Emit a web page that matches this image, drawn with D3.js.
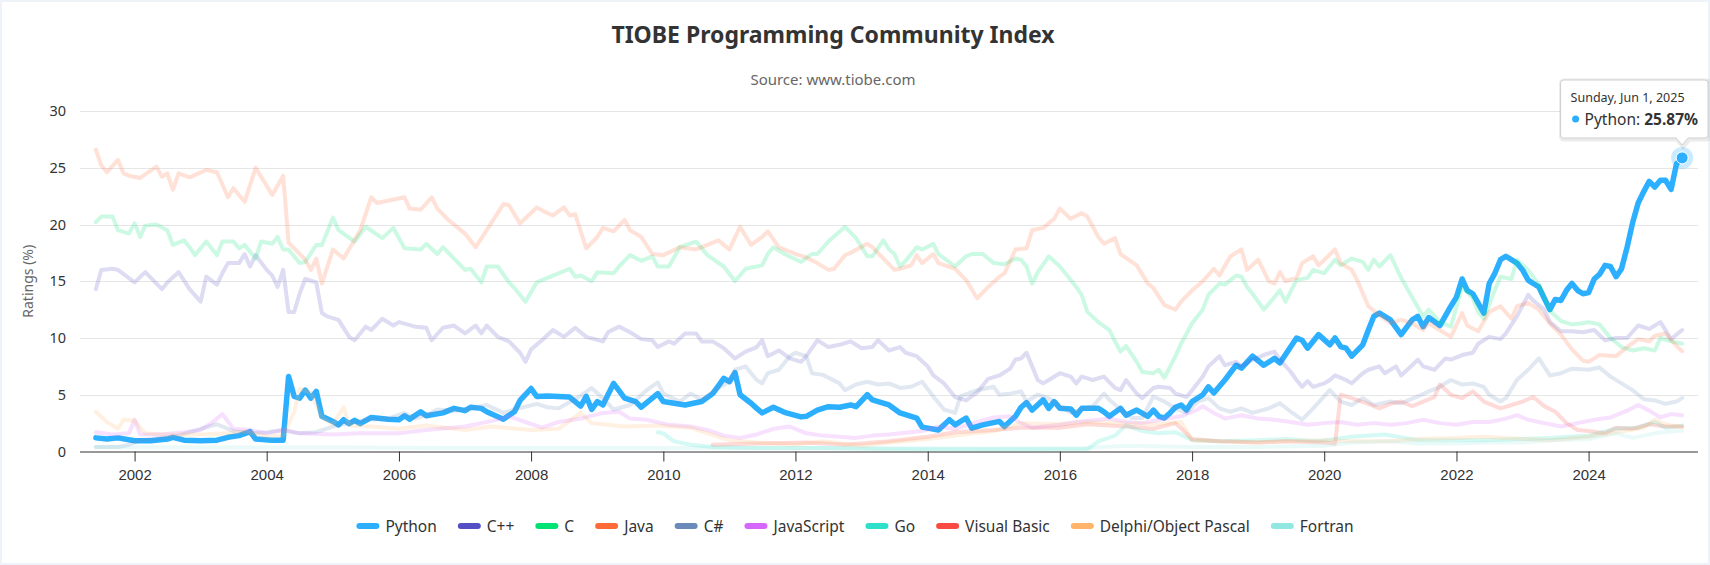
<!DOCTYPE html>
<html>
<head>
<meta charset="utf-8">
<script src="https://cdn.jsdelivr.net/npm/d3@7"></script>
<style>
  html, body { margin: 0; padding: 0; background: #fff; }
  svg { display: block; font-family: "Noto Sans", "Open Sans", sans-serif; }
</style>
</head>
<body>
<svg id="chart" width="1710" height="565"></svg>
<script>
// ---- data (monthly TIOBE ratings, %) ----
var seriesNames = ["Python", "C++", "C", "Java", "C#", "JavaScript", "Go", "Visual Basic", "Delphi/Object Pascal", "Fortran"];
var seriesColors = ["#2caffe", "#544fc5", "#00e272", "#fe6a35", "#6b8abc", "#d568fb", "#2ee0ca", "#fa4b42", "#feb56a", "#91e8e1"];
var yTicks = [0, 5, 10, 15, 20, 25, 30];
var xTickYears = [2002, 2004, 2006, 2008, 2010, 2012, 2014, 2016, 2018, 2020, 2022, 2024];

var python = [["2001-06",1.2],["2001-08",1.1],["2001-10",1.2],["2002-01",0.95],["2002-04",0.95],["2002-07",1.1],["2002-08",1.25],["2002-10",1.0],
  ["2003-01",0.95],["2003-04",1.0],["2003-06",1.25],["2003-08",1.4],["2003-10",1.75],["2003-11",1.1],["2004-02",1.0],["2004-04",1.0],["2004-05",6.6],
  ["2004-06",4.85],["2004-07",4.7],["2004-08",5.4],["2004-09",4.7],["2004-10",5.3],["2004-11",3.1],["2005-01",2.65],["2005-02",2.35],["2005-03",2.8],
  ["2005-04",2.45],["2005-05",2.75],["2005-06",2.45],["2005-08",3.0],["2005-11",2.85],["2006-01",2.8],["2006-02",3.15],["2006-03",2.85],["2006-05",3.5],
  ["2006-06",3.15],["2006-09",3.4],["2006-11",3.8],["2007-01",3.6],["2007-02",3.9],["2007-04",3.8],["2007-05",3.5],["2007-08",2.85],["2007-10",3.5],
  ["2007-11",4.5],["2008-01",5.55],["2008-02",4.85],["2008-04",4.9],["2008-08",4.8],["2008-10",4.0],["2008-11",4.85],["2008-12",3.7],["2009-01",4.4],
  ["2009-02",4.1],["2009-04",6.0],["2009-06",4.7],["2009-08",4.4],["2009-09",3.9],["2009-12",5.1],["2010-01",4.4],["2010-05",4.1],["2010-08",4.4],
  ["2010-10",5.1],["2010-12",6.45],["2011-01",6.15],["2011-02",6.95],["2011-03",5.0],["2011-05",4.25],["2011-06",3.8],["2011-07",3.4],["2011-09",3.9],
  ["2011-11",3.45],["2012-02",3.05],["2012-03",3.1],["2012-05",3.65],["2012-07",3.95],["2012-09",3.9],["2012-11",4.1],["2012-12",3.95],["2013-02",5.0],
  ["2013-03",4.55],["2013-06",4.1],["2013-08",3.4],["2013-11",2.95],["2013-12",2.15],["2014-03",1.9],["2014-05",2.8],["2014-06",2.35],["2014-08",2.95],
  ["2014-09",2.05],["2014-11",2.35],["2015-02",2.65],["2015-03",2.2],["2015-05",3.1],["2015-06",3.9],["2015-07",4.3],["2015-08",3.65],["2015-10",4.55],
  ["2015-11",3.8],["2015-12",4.4],["2016-01",3.8],["2016-03",3.75],["2016-04",3.2],["2016-05",3.8],["2016-08",3.8],["2016-09",3.5],["2016-10",3.1],
  ["2016-12",3.8],["2017-01",3.2],["2017-03",3.65],["2017-05",3.1],["2017-06",3.65],["2017-07",3.1],["2017-08",2.95],["2017-09",3.4],["2017-10",3.9],
  ["2017-11",4.1],["2017-12",3.65],["2018-01",4.4],["2018-03",5.0],["2018-04",5.7],["2018-05",5.15],["2018-07",6.3],["2018-09",7.6],["2018-10",7.35],
  ["2018-12",8.4],["2019-02",7.6],["2019-04",8.2],["2019-05",7.8],["2019-08",10.0],["2019-09",9.8],["2019-10",9.1],["2019-12",10.3],["2020-02",9.4],
  ["2020-03",10.0],["2020-04",9.25],["2020-05",9.1],["2020-06",8.4],["2020-08",9.4],["2020-09",10.7],["2020-10",11.9],["2020-11",12.2],["2021-01",11.6],
  ["2021-03",10.3],["2021-05",11.6],["2021-06",11.9],["2021-07",11.0],["2021-08",11.8],["2021-10",11.1],["2021-12",12.8],["2022-01",13.6],["2022-02",15.2],
  ["2022-03",14.2],["2022-04",13.9],["2022-06",12.2],["2022-07",14.8],["2022-08",15.7],["2022-09",16.9],["2022-10",17.2],["2022-12",16.6],["2023-01",16.0],
  ["2023-02",15.1],["2023-03",14.8],["2023-04",14.5],["2023-05",13.5],["2023-06",12.5],["2023-07",13.4],["2023-08",13.3],["2023-09",14.2],["2023-10",14.8],
  ["2023-11",14.2],["2023-12",13.9],["2024-01",14.0],["2024-02",15.2],["2024-03",15.6],["2024-04",16.4],["2024-05",16.3],["2024-06",15.4],["2024-07",16.1],
  ["2024-08",18.0],["2024-09",20.2],["2024-10",21.9],["2024-11",22.9],["2024-12",23.8],["2025-01",23.3],["2025-02",23.9],["2025-03",23.9],["2025-04",23.1],
  ["2025-05",25.35],["2025-06",25.87]];

var cpp = [["2001-06",14.3],["2001-07",16.0],["2001-09",16.1],["2001-10",16.0],["2002-01",14.9],["2002-03",15.8],["2002-06",14.3],["2002-07",14.9],
  ["2002-09",15.8],["2002-11",14.3],["2003-01",13.2],["2003-02",15.4],["2003-04",14.7],["2003-05",15.7],["2003-06",16.6],["2003-08",16.6],["2003-09",17.4],
  ["2003-10",16.3],["2003-11",17.3],["2004-01",16.0],["2004-02",15.5],["2004-03",14.5],["2004-04",16.0],["2004-05",12.3],["2004-06",12.3],["2004-07",13.9],
  ["2004-08",15.2],["2004-10",14.9],["2004-11",12.2],["2004-12",11.9],["2005-02",11.6],["2005-04",10.1],["2005-05",9.8],["2005-07",11.0],["2005-08",10.7],
  ["2005-10",11.7],["2005-12",11.1],["2006-01",11.4],["2006-04",11.0],["2006-06",10.9],["2006-07",9.8],["2006-09",10.9],["2006-11",11.1],["2007-01",10.4],
  ["2007-03",11.1],["2007-04",10.4],["2007-05",11.1],["2007-07",10.1],["2007-09",9.7],["2007-11",8.7],["2007-12",7.9],["2008-01",9.0],["2008-03",9.8],
  ["2008-05",10.7],["2008-07",10.1],["2008-09",10.9],["2008-11",10.1],["2009-02",9.7],["2009-03",10.5],["2009-05",11.0],["2009-07",10.5],["2009-09",9.9],
  ["2009-11",9.8],["2009-12",9.2],["2010-02",9.7],["2010-03",9.5],["2010-05",10.4],["2010-07",10.4],["2010-08",9.7],["2010-10",9.7],["2010-12",9.1],
  ["2011-02",8.2],["2011-04",8.8],["2011-06",9.2],["2011-07",9.8],["2011-08",8.4],["2011-10",8.9],["2011-12",8.2],["2012-02",7.9],["2012-03",8.4],
  ["2012-05",9.8],["2012-07",9.2],["2012-09",9.4],["2012-11",9.7],["2013-01",9.1],["2013-03",9.2],["2013-04",9.8],["2013-06",8.9],["2013-08",9.2],
  ["2013-09",8.7],["2013-11",8.4],["2014-01",7.5],["2014-02",6.7],["2014-04",6.0],["2014-06",4.8],["2014-08",4.5],["2014-10",5.2],["2014-12",6.4],
  ["2015-02",6.7],["2015-04",7.3],["2015-05",8.1],["2015-06",8.2],["2015-07",8.7],["2015-08",7.5],["2015-09",6.3],["2015-10",6.0],["2015-11",6.3],
  ["2016-01",6.9],["2016-03",6.6],["2016-04",6.0],["2016-05",6.6],["2016-07",6.3],["2016-09",6.6],["2016-11",5.6],["2016-12",5.4],["2017-01",6.3],
  ["2017-03",5.1],["2017-04",4.7],["2017-06",5.6],["2017-07",5.7],["2017-09",5.6],["2017-10",5.1],["2017-12",4.8],["2018-01",5.4],["2018-03",6.6],
  ["2018-04",7.5],["2018-06",8.4],["2018-07",7.6],["2018-09",7.9],["2018-10",7.5],["2018-12",8.1],["2019-02",8.5],["2019-04",8.8],["2019-05",8.1],
  ["2019-07",7.0],["2019-08",6.3],["2019-09",5.7],["2019-10",6.2],["2019-11",5.7],["2020-01",6.0],["2020-02",6.3],["2020-03",6.7],["2020-05",6.3],
  ["2020-06",6.0],["2020-08",6.9],["2020-09",7.2],["2020-11",7.5],["2020-12",6.9],["2021-02",7.5],["2021-03",6.7],["2021-05",7.6],["2021-06",8.1],
  ["2021-07",7.5],["2021-09",7.2],["2021-11",8.2],["2021-12",8.1],["2022-02",8.5],["2022-04",8.7],["2022-05",9.5],["2022-07",10.1],["2022-09",9.9],
  ["2022-10",10.4],["2022-12",11.9],["2023-02",13.8],["2023-03",13.3],["2023-05",12.5],["2023-06",11.4],["2023-08",10.6],["2023-10",10.6],["2023-12",10.5],
  ["2024-02",10.7],["2024-04",9.8],["2024-06",10.0],["2024-08",10.0],["2024-10",11.1],["2024-12",10.8],["2025-02",11.4],["2025-04",9.9],["2025-06",10.7]];

var cLang = [["2001-06",20.2],["2001-07",20.7],["2001-09",20.7],["2001-10",19.5],["2001-12",19.2],["2002-01",20.1],["2002-02",18.9],["2002-03",19.9],
  ["2002-05",20.0],["2002-07",19.5],["2002-08",18.2],["2002-10",18.6],["2002-11",18.0],["2002-12",17.3],["2003-02",18.5],["2003-04",17.3],["2003-05",18.5],
  ["2003-07",18.5],["2003-08",17.9],["2003-09",18.2],["2003-11",17.0],["2003-12",18.5],["2004-02",18.3],["2004-03",18.9],["2004-04",17.8],["2004-05",17.8],
  ["2004-07",16.6],["2004-08",16.7],["2004-10",18.2],["2004-11",18.2],["2005-01",20.6],["2005-02",19.5],["2005-05",18.5],["2005-07",19.8],["2005-10",18.8],
  ["2005-12",19.7],["2006-02",17.9],["2006-05",17.8],["2006-06",18.3],["2006-08",17.4],["2006-09",18.0],["2006-11",17.0],["2007-01",16.0],["2007-02",16.1],
  ["2007-04",14.9],["2007-05",16.3],["2007-07",16.3],["2007-09",14.9],["2007-10",14.4],["2007-12",13.2],["2008-02",14.9],["2008-04",15.3],["2008-05",15.5],
  ["2008-08",16.1],["2008-09",15.4],["2008-10",15.5],["2008-12",15.0],["2009-01",15.8],["2009-04",15.7],["2009-05",16.3],["2009-07",17.3],["2009-09",16.8],
  ["2009-11",17.2],["2009-12",16.3],["2010-02",16.3],["2010-04",18.0],["2010-07",18.5],["2010-09",17.3],["2010-12",16.3],["2011-02",15.0],["2011-04",16.1],
  ["2011-07",16.4],["2011-08",17.4],["2011-09",18.0],["2011-11",17.4],["2012-02",16.7],["2012-04",17.4],["2012-05",17.4],["2012-07",18.5],["2012-10",19.8],
  ["2012-12",18.8],["2013-02",17.2],["2013-03",17.2],["2013-05",18.6],["2013-06",17.8],["2013-07",17.4],["2013-08",16.3],["2013-09",16.8],["2013-11",18.0],
  ["2013-12",17.8],["2014-02",18.3],["2014-03",17.4],["2014-06",16.3],["2014-08",17.2],["2014-09",17.4],["2014-11",17.4],["2015-01",16.6],["2015-03",16.5],
  ["2015-05",17.0],["2015-06",16.9],["2015-07",16.3],["2015-08",14.8],["2015-09",15.8],["2015-11",17.2],["2016-01",16.3],["2016-02",15.7],["2016-04",14.5],
  ["2016-05",13.8],["2016-06",12.3],["2016-08",11.4],["2016-10",10.7],["2016-11",9.7],["2016-12",8.8],["2017-01",9.3],["2017-03",7.9],["2017-04",7.0],
  ["2017-06",6.9],["2017-07",7.2],["2017-08",6.5],["2017-10",8.4],["2017-11",9.5],["2018-01",11.3],["2018-03",12.5],["2018-04",13.8],["2018-06",14.8],
  ["2018-07",14.7],["2018-09",15.5],["2018-10",15.4],["2018-11",14.5],["2018-12",13.9],["2019-02",12.5],["2019-04",13.6],["2019-05",14.2],["2019-06",13.2],
  ["2019-08",15.1],["2019-10",15.3],["2019-11",16.0],["2020-01",15.7],["2020-03",16.9],["2020-04",16.4],["2020-06",17.0],["2020-08",16.7],["2020-09",16.0],
  ["2020-10",16.9],["2020-11",16.3],["2021-01",17.3],["2021-03",15.3],["2021-05",13.6],["2021-07",11.9],["2021-08",12.5],["2021-10",11.4],["2021-12",11.0],
  ["2022-02",14.5],["2022-04",13.5],["2022-05",12.3],["2022-06",11.7],["2022-08",14.2],["2022-09",15.4],["2022-11",15.2],["2022-12",16.9],["2023-02",16.0],
  ["2023-04",14.7],["2023-06",12.4],["2023-08",11.5],["2023-10",11.2],["2023-12",11.3],["2024-01",11.4],["2024-03",11.2],["2024-05",10.0],["2024-07",9.2],
  ["2024-09",8.9],["2024-11",9.1],["2025-01",8.9],["2025-02",10.0],["2025-04",9.7],["2025-06",9.5]];

var java = [["2001-06",26.6],["2001-07",25.2],["2001-08",24.6],["2001-10",25.7],["2001-11",24.5],["2001-12",24.3],["2002-02",24.1],["2002-05",25.1],
  ["2002-06",24.2],["2002-07",24.5],["2002-08",23.05],["2002-09",24.5],["2002-11",24.15],["2003-02",24.8],["2003-04",24.6],["2003-06",22.4],["2003-07",23.2],
  ["2003-09",22.0],["2003-11",25.0],["2004-02",22.6],["2004-04",24.3],["2004-05",18.4],["2004-06",17.9],["2004-08",16.9],["2004-09",16.0],["2004-10",17.0],
  ["2004-11",14.8],["2005-01",17.8],["2005-03",17.0],["2005-06",19.5],["2005-08",22.4],["2005-09",21.9],["2006-02",22.4],["2006-03",21.4],["2006-05",21.3],
  ["2006-07",22.4],["2006-08",21.4],["2006-10",20.4],["2007-01",19.2],["2007-03",18.0],["2007-05",19.5],["2007-08",21.8],["2007-09",21.7],["2007-11",20.1],
  ["2008-02",21.5],["2008-04",21.0],["2008-05",20.8],["2008-07",21.5],["2008-08",20.8],["2008-09",20.9],["2008-11",17.9],["2009-01",18.9],["2009-02",19.7],
  ["2009-04",19.4],["2009-06",20.4],["2009-07",19.5],["2009-09",18.9],["2009-11",17.4],["2010-01",17.3],["2010-04",18.0],["2010-07",17.8],["2010-09",18.2],
  ["2010-11",18.6],["2011-01",17.8],["2011-03",19.8],["2011-05",18.2],["2011-07",18.9],["2011-08",19.4],["2011-10",18.0],["2012-01",17.4],["2012-03",17.1],
  ["2012-05",16.6],["2012-07",16.0],["2012-08",16.1],["2012-10",17.3],["2012-11",17.5],["2013-02",18.3],["2013-03",18.0],["2013-05",17.0],["2013-07",16.0],
  ["2013-08",16.1],["2013-10",16.4],["2013-11",17.3],["2013-12",16.6],["2014-02",17.4],["2014-03",16.6],["2014-06",16.1],["2014-08",15.1],["2014-10",13.5],
  ["2014-12",14.5],["2015-02",15.4],["2015-03",15.7],["2015-05",17.8],["2015-07",17.9],["2015-08",19.5],["2015-10",19.7],["2015-12",20.5],["2016-01",21.4],
  ["2016-03",20.5],["2016-05",21.0],["2016-06",20.7],["2016-08",18.9],["2016-09",18.3],["2016-11",18.8],["2016-12",17.4],["2017-03",16.4],["2017-05",14.8],
  ["2017-06",14.4],["2017-08",12.9],["2017-10",12.5],["2017-11",13.2],["2018-01",14.2],["2018-03",15.0],["2018-05",16.1],["2018-06",15.5],["2018-08",17.2],
  ["2018-10",17.8],["2018-11",16.0],["2019-01",16.9],["2019-03",15.0],["2019-04",14.8],["2019-05",15.8],["2019-06",15.0],["2019-08",15.3],["2019-09",16.6],
  ["2019-11",17.2],["2019-12",16.4],["2020-03",17.8],["2020-04",16.6],["2020-06",16.0],["2020-07",15.1],["2020-09",12.8],["2020-11",12.0],["2021-01",11.3],
  ["2021-03",11.6],["2021-05",11.3],["2021-07",10.7],["2021-08",11.3],["2021-10",10.7],["2021-12",10.1],["2022-02",12.2],["2022-03",11.1],["2022-05",10.6],
  ["2022-07",12.3],["2022-09",12.8],["2022-11",11.7],["2022-12",12.8],["2023-02",13.1],["2023-04",12.5],["2023-06",11.3],["2023-08",10.3],["2023-10",9.0],
  ["2023-12",8.0],["2024-01",7.9],["2024-03",8.5],["2024-06",8.4],["2024-08",9.2],["2024-10",9.9],["2024-12",9.7],["2025-01",10.2],["2025-03",10.4],
  ["2025-05",9.3],["2025-06",8.84]];

var csharp = [["2001-06",0.4],["2001-10",0.4],["2001-12",0.6],["2002-02",1.0],["2002-06",1.2],["2002-09",1.4],["2003-01",2.0],["2003-04",2.4],
  ["2003-07",1.8],["2003-10",1.6],["2004-01",1.7],["2004-04",1.9],["2004-07",1.6],["2004-10",1.7],["2005-01",2.2],["2005-04",2.5],["2005-07",2.8],
  ["2005-11",2.9],["2006-02",3.4],["2006-04",2.9],["2006-06",3.2],["2006-08",3.7],["2006-11",3.6],["2007-01",3.7],["2007-05",4.1],["2007-08",3.4],
  ["2007-10",3.7],["2008-02",4.2],["2008-04",3.9],["2008-06",3.8],["2008-10",4.9],["2008-12",5.6],["2009-02",4.7],["2009-04",3.7],["2009-07",4.1],
  ["2009-10",5.4],["2009-12",6.1],["2010-01",5.1],["2010-04",4.4],["2010-06",5.1],["2010-08",4.55],["2010-11",5.6],["2011-01",6.15],["2011-02",7.2],
  ["2011-04",7.5],["2011-05",6.9],["2011-06",6.3],["2011-07",6.0],["2011-08",6.9],["2011-10",7.2],["2011-12",8.4],["2012-01",8.7],["2012-03",8.4],
  ["2012-04",6.9],["2012-06",6.75],["2012-09",6.0],["2012-10",5.4],["2012-12",5.9],["2013-02",6.15],["2013-04",5.9],["2013-06",6.0],["2013-08",5.6],
  ["2013-10",5.7],["2013-12",6.15],["2014-02",4.85],["2014-04",3.7],["2014-06",3.4],["2014-07",4.85],["2014-10",5.4],["2015-01",5.7],["2015-02",5.0],
  ["2015-04",5.1],["2015-06",5.3],["2015-07",4.4],["2015-09",5.0],["2015-11",4.7],["2016-01",4.0],["2016-03",3.4],["2016-05",3.7],["2016-07",4.0],
  ["2016-09",5.1],["2016-10",4.55],["2016-12",3.7],["2017-02",2.95],["2017-04",2.95],["2017-06",4.85],["2017-08",4.4],["2017-10",3.8],["2017-12",3.4],
  ["2018-02",4.4],["2018-04",4.7],["2018-06",3.8],["2018-08",3.5],["2018-10",3.8],["2018-12",3.4],["2019-03",3.8],["2019-05",4.25],["2019-07",3.5],
  ["2019-09",2.8],["2019-11",3.8],["2020-02",5.4],["2020-04",4.4],["2020-06",4.1],["2020-08",4.7],["2020-10",4.1],["2021-01",4.4],["2021-03",4.25],
  ["2021-06",4.85],["2021-08",5.3],["2021-10",5.7],["2021-12",6.3],["2022-02",5.9],["2022-04",6.0],["2022-06",5.7],["2022-07",5.0],["2022-09",4.4],
  ["2022-10",4.7],["2022-12",6.3],["2023-02",7.2],["2023-04",8.2],["2023-06",6.7],["2023-08",6.9],["2023-10",7.3],["2024-01",7.2],["2024-03",7.4],
  ["2024-05",6.6],["2024-07",6.0],["2024-09",5.4],["2024-11",4.6],["2025-01",4.5],["2025-03",4.2],["2025-05",4.4],["2025-06",4.7]];

var javascript = [["2001-06",1.7],["2001-09",1.5],["2001-12",1.6],["2002-01",2.8],["2002-02",1.5],["2002-06",1.5],["2002-10",1.7],["2003-01",1.9],
  ["2003-03",2.5],["2003-05",3.3],["2003-07",2.0],["2003-10",1.9],["2004-01",1.6],["2004-04",1.9],["2004-07",1.6],["2005-01",1.5],["2005-06",1.6],
  ["2006-01",1.6],["2006-06",1.9],["2007-01",2.2],["2007-06",2.7],["2007-09",3.1],["2007-12",2.6],["2008-03",2.1],["2008-06",2.6],["2008-10",2.9],
  ["2009-02",3.4],["2009-05",3.5],["2009-07",2.9],["2009-10",2.8],["2010-02",2.35],["2010-06",2.2],["2010-09",1.9],["2010-12",1.4],["2011-03",1.2],
  ["2011-06",1.5],["2011-09",2.0],["2011-12",2.2],["2012-03",1.6],["2012-06",1.4],["2012-12",1.2],["2013-03",1.4],["2013-06",1.5],["2013-12",1.8],
  ["2014-03",2.2],["2014-06",2.0],["2014-10",2.6],["2015-01",3.0],["2015-04",3.1],["2015-06",2.5],["2015-08",2.1],["2016-01",2.35],["2016-04",2.6],
  ["2016-08",2.8],["2016-10",2.9],["2017-01",2.6],["2017-04",2.5],["2017-07",2.8],["2017-11",3.1],["2018-02",3.7],["2018-03",4.0],["2018-05",3.4],
  ["2018-07",2.9],["2018-10",3.2],["2019-01",2.9],["2019-04",2.8],["2019-07",2.6],["2019-10",2.35],["2020-01",2.5],["2020-04",2.6],["2020-07",2.35],
  ["2020-10",2.5],["2021-01",2.35],["2021-04",2.5],["2021-07",2.8],["2021-10",2.5],["2022-01",2.35],["2022-04",2.6],["2022-07",2.6],["2022-10",2.9],
  ["2022-12",3.2],["2023-02",2.8],["2023-05",2.5],["2023-08",2.2],["2023-11",2.5],["2024-02",2.8],["2024-05",3.0],["2024-08",3.6],["2024-10",4.1],
  ["2024-12",3.6],["2025-02",3.0],["2025-04",3.3],["2025-06",3.2]];

var go = [["2009-12",1.7],["2010-01",1.6],["2010-03",0.9],["2010-06",0.6],["2010-10",0.4],["2011-06",0.3],["2012-06",0.3],["2013-06",0.2],
  ["2014-06",0.2],["2015-06",0.2],["2016-06",0.2],["2016-08",0.9],["2016-11",1.4],["2017-01",2.3],["2017-04",1.8],["2017-07",1.6],["2017-10",1.7],
  ["2018-01",1.0],["2018-06",0.9],["2019-01",1.0],["2019-06",1.1],["2019-12",0.9],["2020-06",1.3],["2020-12",1.5],["2021-06",1.0],["2022-01",1.0],
  ["2022-06",1.0],["2023-01",1.1],["2023-06",1.2],["2024-01",1.4],["2024-06",2.0],["2024-10",2.1],["2025-01",2.6],["2025-03",2.1],["2025-06",2.28]];

var visualBasic = [["2010-10",0.6],["2011-06",0.7],["2012-03",0.8],["2012-10",0.6],["2013-06",0.9],["2014-01",1.3],["2014-06",1.7],["2015-01",1.9],
  ["2015-06",2.1],["2016-01",2.1],["2016-06",2.4],["2017-01",2.2],["2017-06",2.0],["2017-10",2.5],["2018-01",1.1],["2018-06",0.9],["2019-01",0.8],
  ["2019-06",0.9],["2020-01",0.8],["2020-03",0.7],["2020-04",5.0],["2020-06",4.7],["2020-09",4.2],["2020-11",3.8],["2021-01",4.2],["2021-03",4.4],
  ["2021-05",4.0],["2021-07",4.4],["2021-09",4.8],["2021-10",5.9],["2021-12",5.0],["2022-02",4.7],["2022-04",5.3],["2022-06",4.4],["2022-09",3.8],
  ["2022-11",4.1],["2023-01",4.4],["2023-03",4.8],["2023-05",4.0],["2023-07",3.5],["2023-09",2.5],["2023-11",1.9],["2024-01",1.8],["2024-04",1.6],
  ["2024-06",2.1],["2024-09",2.0],["2024-12",2.4],["2025-03",2.2],["2025-06",2.2]];

var delphi = [["2001-06",3.5],["2001-08",2.6],["2001-10",2.0],["2001-11",2.8],["2002-01",2.7],["2002-03",1.6],["2002-06",1.5],["2003-01",1.5],
  ["2003-06",1.6],["2003-09",1.8],["2004-01",1.3],["2004-04",1.4],["2004-06",3.5],["2004-07",5.5],["2004-09",5.2],["2004-11",3.0],["2005-01",2.4],
  ["2005-03",3.9],["2005-04",2.3],["2005-08",2.2],["2006-01",2.0],["2006-06",2.3],["2007-01",1.9],["2007-06",2.2],["2008-01",1.9],["2008-06",2.0],
  ["2008-10",3.4],["2008-12",2.5],["2009-06",2.2],["2009-12",2.3],["2010-06",2.1],["2010-09",1.6],["2011-01",1.0],["2011-06",0.8],["2012-01",0.6],
  ["2012-06",0.9],["2013-01",0.5],["2013-06",0.8],["2014-01",1.1],["2014-06",1.4],["2015-01",1.8],["2015-06",2.5],["2016-01",2.4],["2016-06",2.6],
  ["2017-01",2.5],["2017-06",2.4],["2017-11",2.6],["2018-01",1.0],["2018-06",0.9],["2019-01",0.8],["2019-06",0.9],["2020-01",1.0],["2020-06",0.9],
  ["2021-01",0.9],["2021-06",1.1],["2022-01",1.2],["2022-06",1.3],["2023-01",1.1],["2023-06",1.0],["2024-01",1.3],["2024-06",1.7],["2024-11",2.1],
  ["2025-01",2.8],["2025-03",2.4],["2025-06",2.15]];

var fortran = [["2001-06",0.4],["2003-01",0.35],["2005-01",0.35],["2007-01",0.3],["2009-01",0.3],["2011-01",0.3],["2013-01",0.3],["2015-01",0.25],
  ["2016-06",0.3],["2017-01",0.5],["2018-01",0.4],["2019-01",0.4],["2020-01",0.5],["2020-06",0.8],["2021-01",0.9],["2021-06",0.7],["2022-01",0.7],
  ["2022-06",0.8],["2023-01",0.8],["2023-06",1.0],["2024-01",1.1],["2024-06",1.6],["2024-09",1.2],["2025-01",1.6],["2025-06",1.86]];

var seriesData = [python, cpp, cLang, java, csharp, javascript, go, visualBasic, delphi, fortran];

// ---- layout ----
var width = 1710, height = 565;
var plotLeft = 80, plotRight = 1698, plotTop = 111, plotBottom = 451.5;
var parseMonth = d3.timeParse("%Y-%m");

var series = seriesNames.map(function(name, i) {
  return {
    name: name,
    color: seriesColors[i],
    values: seriesData[i].map(function(d) { return { date: parseMonth(d[0]), value: d[1] }; })
  };
});

var allDates = [];
series.forEach(function(s) { s.values.forEach(function(v) { allDates.push(v.date); }); });
var minDate = d3.min(allDates), maxDate = d3.max(allDates);
var pad = (maxDate - minDate) * 0.01;

var x_scale = d3.scaleTime()
  .domain([new Date(+minDate - pad), new Date(+maxDate + pad)])
  .range([plotLeft, plotRight]);
var y_scale = d3.scaleLinear()
  .domain([0, 30])
  .range([plotBottom, plotTop]);

var svg = d3.select("#chart");

// Frame
svg.append("rect").attr("width", width).attr("height", height).attr("fill", "#eef3f9");
svg.append("rect").attr("x", 2).attr("y", 2).attr("width", width - 4).attr("height", height - 4).attr("fill", "#fff");

// Title and subtitle (shifted left like the exporting-button width adjust)
var titleX = width / 2 - 22;
svg.append("text")
  .attr("x", titleX).attr("y", 43)
  .attr("text-anchor", "middle")
  .attr("font-size", 23).attr("font-weight", "bold").attr("fill", "#333")
  .text("TIOBE Programming Community Index");
svg.append("text")
  .attr("x", titleX).attr("y", 85)
  .attr("text-anchor", "middle")
  .attr("font-size", 15).attr("fill", "#666")
  .text("Source: www.tiobe.com");

// Grid lines
svg.append("g")
  .selectAll("line")
  .data(yTicks.filter(function(t) { return t > 0; }))
  .enter()
  .append("line")
  .attr("x1", plotLeft).attr("x2", plotRight)
  .attr("y1", function(d) { return Math.round(y_scale(d)) + 0.5; })
  .attr("y2", function(d) { return Math.round(y_scale(d)) + 0.5; })
  .attr("stroke", "#e6e6e6");

// Y labels
svg.append("g")
  .selectAll("text")
  .data(yTicks)
  .enter()
  .append("text")
  .attr("x", 66)
  .attr("y", function(d) { return y_scale(d) + 5; })
  .attr("text-anchor", "end")
  .attr("font-size", 14.5).attr("fill", "#333")
  .text(function(d) { return d; });

svg.append("text")
  .attr("transform", "translate(33," + ((plotTop + plotBottom) / 2) + ") rotate(-90)")
  .attr("text-anchor", "middle")
  .attr("font-size", 14).attr("fill", "#666")
  .text("Ratings (%)");

// X axis
var x_axis = d3.axisBottom(x_scale)
  .tickValues(xTickYears.map(function(y) { return new Date(y, 0, 1); }))
  .tickFormat(d3.timeFormat("%Y"))
  .tickSizeOuter(0)
  .tickSize(10)
  .tickPadding(8);
var xg = svg.append("g")
  .attr("transform", "translate(0," + plotBottom + ")")
  .call(x_axis);
xg.select(".domain").attr("stroke", "#333").attr("d", "M" + plotLeft + ",0.5H" + plotRight);
xg.selectAll(".tick line").attr("stroke", "#333");
xg.selectAll(".tick text").attr("font-size", 15).attr("fill", "#333").attr("font-family", null);

// Lines
var line = d3.line()
  .x(function(d) { return x_scale(d.date); })
  .y(function(d) { return y_scale(d.value); });

svg.append("g")
  .selectAll("path")
  .data(series)
  .enter()
  .append("path")
  .attr("d", function(d) { return line(d.values); })
  .attr("fill", "none")
  .attr("stroke", function(d) { return d.color; })
  .attr("stroke-width", function(d, i) { return i === 0 ? 5.5 : 4; })
  .attr("stroke-linejoin", "round")
  .attr("stroke-linecap", "round")
  .attr("opacity", function(d, i) { return i === 0 ? 1 : 0.2; });

// Hovered point
var last = series[0].values[series[0].values.length - 1];
var px = x_scale(last.date), py = y_scale(last.value);
svg.append("circle").attr("cx", px).attr("cy", py).attr("r", 11)
  .attr("fill", seriesColors[0]).attr("opacity", 0.25);
svg.append("circle").attr("cx", px).attr("cy", py).attr("r", 6)
  .attr("fill", seriesColors[0]).attr("stroke", "#fff").attr("stroke-width", 1);

// Legend
var legend = svg.append("g");
var lx = 0;
var itemDistance = 21;
series.forEach(function(s, i) {
  var item = legend.append("g").attr("transform", "translate(" + lx + ",0)");
  item.append("line")
    .attr("x1", 3).attr("x2", 20).attr("y1", 0).attr("y2", 0)
    .attr("stroke", s.color).attr("stroke-width", 6).attr("stroke-linecap", "round");
  var t = item.append("text")
    .attr("x", 29).attr("y", 5.5)
    .attr("font-size", 15.5).attr("fill", "#333")
    .text(s.name);
  lx += 29 + t.node().getComputedTextLength() + itemDistance;
});
var legendWidth = lx - itemDistance;
legend.attr("transform", "translate(" + (width / 2 - legendWidth / 2) + ",526)");

// Tooltip
var tip = svg.append("g");
var header = tip.append("text")
  .attr("x", 10).attr("y", 22)
  .attr("font-size", 12.5).attr("fill", "#333")
  .text(d3.timeFormat("%A, %b %-d, %Y")(last.date));
tip.append("circle").attr("cx", 15).attr("cy", 39).attr("r", 3.5).attr("fill", seriesColors[0]);
var body = tip.append("text").attr("x", 24).attr("y", 44.5).attr("font-size", 15.5).attr("fill", "#333");
body.append("tspan").text(seriesNames[0] + ": ");
body.append("tspan").attr("font-weight", "bold").text(last.value.toFixed(2) + "%");
var tipW = Math.max(header.node().getComputedTextLength() + 20, body.node().getComputedTextLength() + 34);
var tipH = 58;
var tipX = Math.min(width - 2 - tipW, px - tipW / 2), tipY = 80;
var ax = px - tipX;
var callout = "M3,0H" + (tipW - 3) + "Q" + tipW + ",0 " + tipW + ",3V" + (tipH - 3) +
  "Q" + tipW + "," + tipH + " " + (tipW - 3) + "," + tipH +
  "H" + (ax + 6) + "L" + ax + "," + (tipH + 7) + "L" + (ax - 6) + "," + tipH +
  "H3Q0," + tipH + " 0," + (tipH - 3) + "V3Q0,0 3,0Z";
tip.insert("path", ":first-child").attr("d", callout)
  .attr("fill", "#fff").attr("stroke", "#d0d0d0").attr("stroke-width", 1);
tip.insert("path", ":first-child").attr("d", callout)
  .attr("fill", "none").attr("stroke", "#000").attr("stroke-opacity", 0.08).attr("stroke-width", 5)
  .attr("transform", "translate(1,1)");
tip.attr("transform", "translate(" + tipX + "," + tipY + ")");
</script>
</body>
</html>
